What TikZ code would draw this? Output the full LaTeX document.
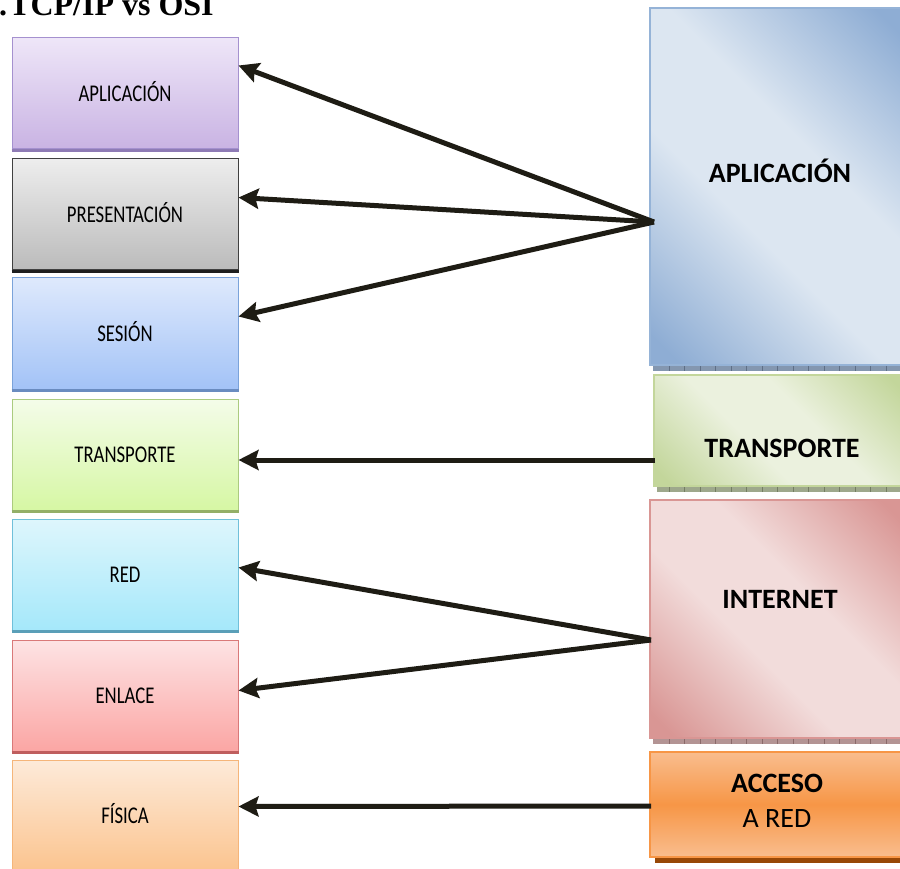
\documentclass[tikz,border=0pt]{standalone}
\usepackage{fontspec}
\setmainfont{Carlito}
\newfontfamily\condfont{Carlito}[FakeStretch=0.78]
\newfontfamily\titlefont{Liberation Serif}
\usetikzlibrary{arrows.meta}
% left colours
\definecolor{appT}{HTML}{EEE6F8}\definecolor{appB}{HTML}{C9B3E3}\definecolor{appD}{HTML}{A591CF}\definecolor{appS}{HTML}{8E7BB5}
\definecolor{preT}{HTML}{EDEDED}\definecolor{preB}{HTML}{BBBBBB}\definecolor{preD}{HTML}{404040}\definecolor{preS}{HTML}{1E1E1E}
\definecolor{sesT}{HTML}{DEE9FC}\definecolor{sesB}{HTML}{A3C3F7}\definecolor{sesD}{HTML}{7BA3DA}\definecolor{sesS}{HTML}{6A8CC0}
\definecolor{traT}{HTML}{F4FCE9}\definecolor{traB}{HTML}{D6F7A4}\definecolor{traD}{HTML}{ABCB7F}\definecolor{traS}{HTML}{93AF68}
\definecolor{redT}{HTML}{DEF6FC}\definecolor{redB}{HTML}{A5E8FA}\definecolor{redD}{HTML}{70C0DA}\definecolor{redS}{HTML}{5A9FB8}
\definecolor{enlT}{HTML}{FDE3E4}\definecolor{enlB}{HTML}{FBA6A4}\definecolor{enlD}{HTML}{D97979}\definecolor{enlS}{HTML}{BF5E5E}
\definecolor{fisT}{HTML}{FDEAD9}\definecolor{fisB}{HTML}{FBC48F}\definecolor{fisD}{HTML}{F5B57A}
% right colours
\definecolor{rbD}{HTML}{8EADD4}\definecolor{rbL}{HTML}{DCE6F1}\definecolor{rbE}{HTML}{95B3D7}\definecolor{rbS}{HTML}{8497B0}\definecolor{rbK}{HTML}{5F6F86}
\definecolor{rgD}{HTML}{C3D69B}\definecolor{rgL}{HTML}{EBF1DE}\definecolor{rgE}{HTML}{C3D69B}\definecolor{rgS}{HTML}{9EA88C}\definecolor{rgK}{HTML}{747D63}
\definecolor{rrD}{HTML}{D99694}\definecolor{rrL}{HTML}{F2DCDB}\definecolor{rrE}{HTML}{D99694}\definecolor{rrS}{HTML}{B39494}\definecolor{rrK}{HTML}{8A6A6A}
\definecolor{acL}{HTML}{F9BD8E}\definecolor{acM}{HTML}{F79646}\definecolor{acE}{HTML}{F79646}\definecolor{acS}{HTML}{984807}
\definecolor{arrc}{HTML}{1E1C14}
\pgfdeclarehorizontalshading{diagb}{100bp}{color(0bp)=(rbD); color(18bp)=(rbD); color(42bp)=(rbL); color(58bp)=(rbL); color(82bp)=(rbD); color(100bp)=(rbD)}
\pgfdeclarehorizontalshading{diagg}{100bp}{color(0bp)=(rgD); color(18bp)=(rgD); color(42bp)=(rgL); color(58bp)=(rgL); color(82bp)=(rgD); color(100bp)=(rgD)}
\pgfdeclarehorizontalshading{diagr}{100bp}{color(0bp)=(rrD); color(18bp)=(rrD); color(42bp)=(rrL); color(58bp)=(rrL); color(82bp)=(rrD); color(100bp)=(rrD)}
\pgfdeclareverticalshading{accsh}{100bp}{color(0bp)=(acL); color(25bp)=(acL); color(50bp)=(acM); color(75bp)=(acL); color(100bp)=(acL)}
\tikzset{
  lbox/.style={rectangle, minimum width=226pt, minimum height=111pt, inner sep=0pt,
    line width=1pt, text height=15.5pt, text depth=0pt,
    font=\condfont\fontsize{24}{28}\selectfont},
  rbox/.style={rectangle, inner sep=0pt, line width=1.5pt},
  rtext/.style={anchor=base, inner sep=0pt, font=\bfseries\fontsize{28}{32}\selectfont},
  arr/.style={draw=arrc, line width=5pt, -{Stealth[length=20pt,width=20pt,inset=3pt]}},
}
\begin{document}
\begin{tikzpicture}[x=1pt,y=-1pt]
\clip (0,0) rectangle (900,869);
\fill[white] (0,0) rectangle (900,869);
% title (clipped at top, as in the reference)
\node[anchor=base west, inner sep=0pt, font=\titlefont\bfseries\fontsize{32}{34}\selectfont] (title) at (-1,16) {.\hspace{2pt}TCP/IP vs OSI};
% left OSI column
\node[lbox, top color=appT, bottom color=appB, draw=appD] (lapp) at (125,93.5) {APLICACIÓN};
\node[lbox, top color=preT, bottom color=preB, draw=preD] (lpre) at (125,214.5) {PRESENTACIÓN};
\node[lbox, top color=sesT, bottom color=sesB, draw=sesD] (lses) at (125,333.5) {SESIÓN};
\node[lbox, top color=traT, bottom color=traB, draw=traD] (ltra) at (125,454.5) {TRANSPORTE};
\node[lbox, top color=redT, bottom color=redB, draw=redD] (lred) at (125,574.5) {RED};
\node[lbox, top color=enlT, bottom color=enlB, draw=enlD] (lenl) at (125,695.5) {ENLACE};
\node[lbox, top color=fisT, bottom color=fisB, draw=fisD] (lfis) at (125,815.5) {FÍSICA};
\foreach \n/\c in {lapp/appS, lpre/preS, lses/sesS, ltra/traS, lred/redS, lenl/enlS}
  \draw[\c, line width=2.5pt] ([yshift=-1pt]\n.south west) -- ([yshift=-1pt]\n.south east);
% right TCP/IP column: tick strips
\foreach \y/\xa/\c/\k in {366/653/rbS/rbK, 487/657/rgS/rgK, 739/653/rrS/rrK}{
  \fill[\c] (\xa,\y) rectangle (905,\y+5);
  \foreach \x in {669,684.5,...,905} \draw[\k, line width=0.6pt] (\x,\y) -- (\x,\y+5);
}
\fill[acS] (655,857) rectangle (905,863);
\node[rbox, minimum width=255pt, minimum height=357pt, shading=diagb, shading angle=45, draw=rbE] (rapp) at (777.5,186.5) {};
\node[rbox, minimum width=251pt, minimum height=111pt, shading=diagg, shading angle=45, draw=rgE] (rtra) at (779.5,430.5) {};
\node[rbox, minimum width=255pt, minimum height=238pt, shading=diagr, shading angle=45, draw=rrE] (rint) at (777.5,619) {};
\node[rbox, minimum width=255pt, minimum height=105pt, shading=accsh, draw=acE] (racc) at (777.5,804.5) {};
\node[rtext] (tapp) at (780,183) {APLICACIÓN};
\node[rtext] (ttra) at (782,457) {TRANSPORTE};
\node[rtext] (tint) at (780,608) {INTERNET};
\node[rtext] (tacc) at (777,792) {ACCESO};
\node[rtext, font=\fontsize{28}{32}\selectfont] (tred) at (777,827) {A RED};
% arrow origins
\coordinate (s1) at (654,222);
\coordinate (s2) at (655,460);
\coordinate (s3) at (651,640);
\coordinate (s4) at (651,806);
\draw[arr] (s1) -- ([yshift=28pt]lapp.east);
\draw[arr] (s1) -- ([yshift=17pt]lpre.east);
\draw[arr] (s1) -- ([yshift=17pt]lses.east);
\draw[arr] (s2) -- ([yshift=-5.5pt]ltra.east);
\draw[arr] (s3) -- ([yshift=7pt]lred.east);
\draw[arr] (s3) -- ([yshift=5pt]lenl.east);
\draw[arr] (s4) -- ([yshift=9pt]lfis.east);
\end{tikzpicture}
\end{document}
